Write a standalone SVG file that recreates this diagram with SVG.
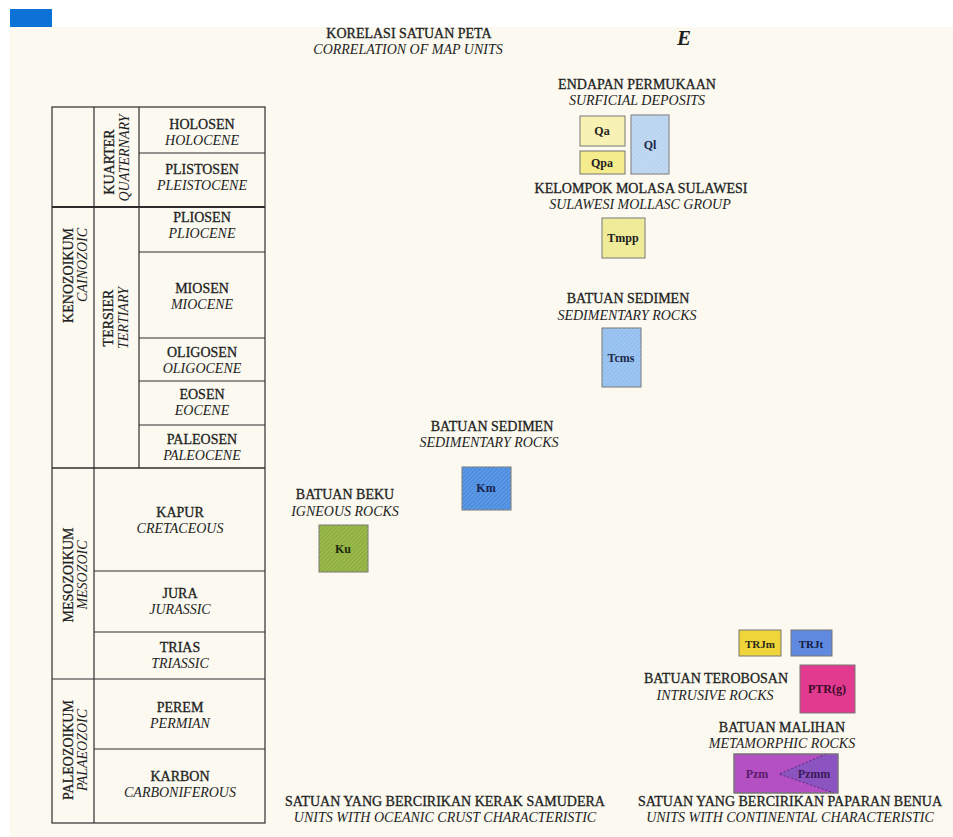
<svg xmlns="http://www.w3.org/2000/svg" width="953" height="837" viewBox="0 0 953 837">
<style>
text{font-family:"Liberation Serif","Times New Roman",serif;fill:#1e1e1e;text-anchor:middle}
.u{font-size:14px;stroke:#1e1e1e;stroke-width:0.3}
.i{font-size:14px;font-style:italic}
.b{font-size:12px;font-weight:bold}
.tl{stroke:#2c2c2c;stroke-width:1.2;fill:none}
.box{stroke:#777;stroke-width:1}
.ht{fill:url(#h)}
</style>
<defs>
<pattern id="h" width="3" height="3" patternUnits="userSpaceOnUse" patternTransform="rotate(45)">
<line x1="0" y1="0" x2="0" y2="3" stroke="#ffffff" stroke-opacity="0.3" stroke-width="1"/>
</pattern>
</defs>
<rect x="0" y="0" width="953" height="837" fill="#ffffff"/>
<rect x="10" y="27" width="943" height="810" fill="#fbf9f0"/>
<rect x="10" y="9" width="42" height="18" fill="#0c72d6"/>

<g id="title">
<text class="u" x="409" y="38">KORELASI SATUAN PETA</text>
<text class="i" x="408" y="54">CORRELATION OF MAP UNITS</text>
<text x="684" y="45" style="font-size:21px;font-style:italic;font-weight:bold">E</text>
</g>

<g id="table">
<rect class="tl" x="52" y="107" width="213" height="716"/>
<line class="tl" x1="94" y1="107" x2="94" y2="823"/>
<line class="tl" x1="139" y1="107" x2="139" y2="468"/>
<line class="tl" x1="139" y1="153" x2="265" y2="153"/>
<line class="tl" x1="52" y1="207" x2="265" y2="207" style="stroke-width:2.2"/>
<line class="tl" x1="139" y1="252" x2="265" y2="252"/>
<line class="tl" x1="139" y1="338" x2="265" y2="338"/>
<line class="tl" x1="139" y1="381" x2="265" y2="381"/>
<line class="tl" x1="139" y1="425" x2="265" y2="425"/>
<line class="tl" x1="52" y1="468" x2="265" y2="468" style="stroke-width:1.6"/>
<line class="tl" x1="94" y1="571" x2="265" y2="571"/>
<line class="tl" x1="94" y1="632" x2="265" y2="632"/>
<line class="tl" x1="52" y1="679" x2="265" y2="679"/>
<line class="tl" x1="94" y1="749" x2="265" y2="749"/>

<text class="u" transform="translate(73,228) rotate(-90)" style="text-anchor:end">KENOZOIKUM</text>
<text class="i" transform="translate(87,228) rotate(-90)" style="text-anchor:end">CAINOZOIC</text>
<text class="u" transform="translate(73,575) rotate(-90)">MESOZOIKUM</text>
<text class="i" transform="translate(87,575) rotate(-90)">MESOZOIC</text>
<text class="u" transform="translate(73,750) rotate(-90)">PALEOZOIKUM</text>
<text class="i" transform="translate(87,750) rotate(-90)">PALAEOZOIC</text>
<text class="u" transform="translate(114,162) rotate(-90)">KUARTER</text>
<text class="i" transform="translate(129,158) rotate(-90)">QUATERNARY</text>
<text class="u" transform="translate(113,318) rotate(-90)">TERSIER</text>
<text class="i" transform="translate(128,318) rotate(-90)">TERTIARY</text>

<text class="u" x="202" y="129">HOLOSEN</text>
<text class="i" x="202" y="145">HOLOCENE</text>
<text class="u" x="202" y="174">PLISTOSEN</text>
<text class="i" x="202" y="190">PLEISTOCENE</text>
<text class="u" x="202" y="222">PLIOSEN</text>
<text class="i" x="202" y="238">PLIOCENE</text>
<text class="u" x="202" y="293">MIOSEN</text>
<text class="i" x="202" y="309">MIOCENE</text>
<text class="u" x="202" y="357">OLIGOSEN</text>
<text class="i" x="202" y="373">OLIGOCENE</text>
<text class="u" x="202" y="399">EOSEN</text>
<text class="i" x="202" y="415">EOCENE</text>
<text class="u" x="202" y="444">PALEOSEN</text>
<text class="i" x="202" y="460">PALEOCENE</text>
<text class="u" x="180" y="517">KAPUR</text>
<text class="i" x="180" y="533">CRETACEOUS</text>
<text class="u" x="180" y="598">JURA</text>
<text class="i" x="180" y="614">JURASSIC</text>
<text class="u" x="180" y="652">TRIAS</text>
<text class="i" x="180" y="668">TRIASSIC</text>
<text class="u" x="180" y="712">PEREM</text>
<text class="i" x="180" y="728">PERMIAN</text>
<text class="u" x="180" y="781">KARBON</text>
<text class="i" x="180" y="797">CARBONIFEROUS</text>
</g>

<g id="surficial">
<text class="u" x="637" y="89">ENDAPAN PERMUKAAN</text>
<text class="i" x="637" y="105">SURFICIAL DEPOSITS</text>
</g>
<g id="Qa">
<rect class="box" x="580" y="116" width="45" height="30" fill="#f7f2b4"/>
<text class="b" x="602" y="135">Qa</text>
</g>
<g id="Qpa">
<rect class="box" x="580" y="151" width="45" height="23" fill="#f5ec8e"/>
<text class="b" x="602" y="167">Qpa</text>
</g>
<g id="Ql">
<rect class="box" x="631" y="115" width="38" height="59" fill="#bad4f0"/>
<rect class="ht" x="631" y="115" width="38" height="59"/>
<text class="b" x="650" y="149" style="fill:#1e2a4a">Ql</text>
</g>

<g id="molasa">
<text class="u" x="641" y="193">KELOMPOK MOLASA SULAWESI</text>
<text class="i" x="640" y="209">SULAWESI MOLLASC GROUP</text>
</g>
<g id="Tmpp">
<rect class="box" x="602" y="218" width="43" height="40" fill="#eeea94"/>
<rect class="ht" x="602" y="218" width="43" height="40"/>
<text class="b" x="623" y="242">Tmpp</text>
</g>

<g id="sedimen1">
<text class="u" x="628" y="303">BATUAN SEDIMEN</text>
<text class="i" x="627" y="320">SEDIMENTARY ROCKS</text>
</g>
<g id="Tcms">
<rect class="box" x="602" y="328" width="39" height="59" fill="#93bff0"/>
<rect class="ht" x="602" y="328" width="39" height="59"/>
<text class="b" x="621" y="362" style="fill:#1e2a4a">Tcms</text>
</g>

<g id="sedimen2">
<text class="u" x="492" y="431">BATUAN SEDIMEN</text>
<text class="i" x="489" y="447">SEDIMENTARY ROCKS</text>
</g>
<g id="Km">
<rect class="box" x="462" y="467" width="49" height="43" fill="#4b8de0"/>
<rect class="ht" x="462" y="467" width="49" height="43"/>
<text class="b" x="486" y="492" style="fill:#1a2450">Km</text>
</g>

<g id="beku">
<text class="u" x="345" y="499">BATUAN BEKU</text>
<text class="i" x="345" y="516">IGNEOUS ROCKS</text>
</g>
<g id="Ku">
<rect class="box" x="319" y="525" width="49" height="47" fill="#8fb03c"/>
<rect class="ht" x="319" y="525" width="49" height="47"/>
<text class="b" x="343" y="553" style="fill:#1e2a10">Ku</text>
</g>

<g id="TRJm">
<rect class="box" x="739" y="630" width="42" height="26" fill="#f0d53a"/>
<text class="b" x="760" y="648" style="fill:#2a2a1a;font-size:11px">TRJm</text>
</g>
<g id="TRJt">
<rect class="box" x="791" y="630" width="41" height="26" fill="#5f8ae0"/>
<text class="b" x="811" y="648" style="fill:#141a40;font-size:11px">TRJt</text>
</g>

<g id="terobosan">
<text class="u" x="716" y="683">BATUAN TEROBOSAN</text>
<text class="i" x="715" y="700">INTRUSIVE ROCKS</text>
</g>
<g id="PTRg">
<rect class="box" x="800" y="665" width="55" height="48" fill="#e23a8e"/>
<text class="b" x="827" y="693" style="fill:#3a0a2a">PTR(g)</text>
</g>

<g id="malihan">
<text class="u" x="782" y="732">BATUAN MALIHAN</text>
<text class="i" x="782" y="748">METAMORPHIC ROCKS</text>
</g>
<g id="Pzm">
<rect class="box" x="734" y="754" width="104" height="39" fill="#b450c2"/>
<polygon points="779,774 826,754 838,754 838,793 834,793" fill="#8c54c0"/>
<polyline points="826,754 779,774 834,793" fill="none" stroke="#5a2a7a" stroke-width="1" stroke-dasharray="2,2"/>
<rect x="734" y="754" width="104" height="39" fill="none" stroke="#777" stroke-width="1"/>
<text class="b" x="757" y="778" style="fill:#5a1a6a">Pzm</text>
<text class="b" x="814" y="778" style="fill:#3a1a5a">Pzmm</text>
</g>

<g id="oceanic">
<text class="u" x="445" y="806">SATUAN YANG BERCIRIKAN KERAK SAMUDERA</text>
<text class="i" x="445" y="822">UNITS WITH OCEANIC CRUST CHARACTERISTIC</text>
</g>
<g id="continental">
<text class="u" x="790" y="806">SATUAN YANG BERCIRIKAN PAPARAN BENUA</text>
<text class="i" x="790" y="822">UNITS WITH CONTINENTAL CHARACTERISTIC</text>
</g>
<g id="connectors"></g>
</svg>
